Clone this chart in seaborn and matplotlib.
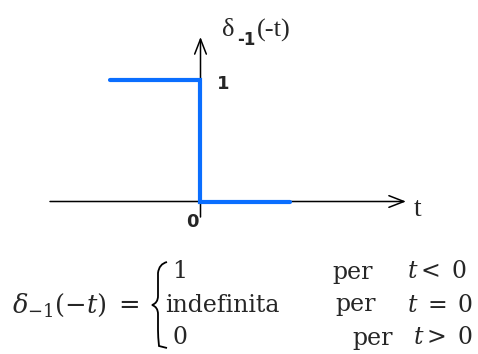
import matplotlib
matplotlib.use("Agg")
import matplotlib.pyplot as plt
import seaborn as sns
import pandas as pd
from matplotlib.path import Path
from matplotlib.patches import PathPatch

# ---- data ----
step_t = [-1.0, 0.0, 0.0, 1.0]
step_v = [1.0, 1.0, 0.0, 0.0]
tick_one = "1"
tick_zero = "0"
axis_label_x = "t"
piece_values = ["1", "indefinita", "0"]
piece_conditions = [r"$t{<}\;0$", r"$t\;=\;0$", r"$t>\;0$"]

sns.set_theme(style="white")
plt.rcParams["font.family"] = ["DejaVu Serif"]
plt.rcParams["mathtext.fontset"] = "dejavuserif"

W, H = 478, 354
fig = plt.figure(figsize=(W / 100, H / 100), dpi=100)
fig.patch.set_facecolor("white")
ax = fig.add_axes([0, 0, 1, 1])

# pixel <-> data mapping
X0, SX = 200.5, 90.0
Y0, SY = 201.5, 122.0
ax.set_xlim((0 - X0) / SX, (W - X0) / SX)
ax.set_ylim((Y0 - H) / SY, (Y0 - 0) / SY)
ax.axis("off")

def dx(px):
    return (px - X0) / SX

def dy(py):
    return (Y0 - py) / SY

def fig_xy(px, py):
    return (px / W, 1 - py / H)

# axes arrows
ax.annotate("", xy=(dx(406), 0), xytext=(dx(50), 0),
            arrowprops=dict(arrowstyle="->,head_length=0.9,head_width=0.35",
                            color="black", lw=1.1, shrinkA=0, shrinkB=0))
ax.annotate("", xy=(0, dy(37)), xytext=(0, dy(217)),
            arrowprops=dict(arrowstyle="->,head_length=0.9,head_width=0.35",
                            color="black", lw=1.1, shrinkA=0, shrinkB=0))

# step signal
df = pd.DataFrame({"t": step_t, "v": step_v})
sns.lineplot(data=df, x="t", y="v", sort=False, estimator=None, ax=ax,
             color="#0A6EFF", lw=3.0, solid_joinstyle="miter", zorder=3)
if ax.get_legend() is not None:
    ax.get_legend().remove()

# labels on the graph
fig.text(*fig_xy(222, 36), "δ", family="Liberation Serif", fontsize=19,
         ha="left", va="baseline")
fig.text(*fig_xy(237, 45), "-1", family="DejaVu Sans", fontweight="bold",
         fontsize=12, ha="left", va="baseline")
fig.text(*fig_xy(257, 37), "(-t)", family="Liberation Serif", fontsize=19,
         ha="left", va="baseline")
fig.text(*fig_xy(223, 84), tick_one, family="DejaVu Sans", fontweight="bold",
         fontsize=13, ha="center", va="center")
fig.text(*fig_xy(192, 222), tick_zero, family="DejaVu Sans", fontweight="bold",
         fontsize=13, ha="center", va="center")
fig.text(*fig_xy(418, 209), axis_label_x, family="Liberation Serif", fontsize=20,
         ha="center", va="center")

# formula
fs = 17
fig.text(*fig_xy(12, 305), r"$\delta_{-1}(-t)\;=$", fontsize=18.5, ha="left", va="center")

# brace drawn as a path (pixel coords -> figure fraction)
bp = [(167, 262), (159, 264), (158, 273), (158, 280),
      (158, 296), (158, 303), (152, 305),
      (158, 307), (158, 314), (158, 330),
      (158, 337), (159, 346), (167, 348)]
codes = [Path.MOVETO, Path.CURVE3, Path.CURVE3, Path.LINETO,
         Path.LINETO, Path.CURVE3, Path.CURVE3,
         Path.CURVE3, Path.CURVE3, Path.LINETO,
         Path.CURVE3, Path.CURVE3, Path.LINETO]
verts = [fig_xy(x, y) for x, y in bp]
fig.patches.append(PathPatch(Path(verts, codes), transform=fig.transFigure,
                             fill=False, lw=1.3, color="black"))

rows_y = [272, 305, 338]
val_x = [172, 165, 172]
per_x = [332, 335, 352]
cond_right = [467, 473, 473]
for yv, v, vx, px_, cond, cr in zip(rows_y, piece_values, val_x, per_x,
                                     piece_conditions, cond_right):
    fig.text(*fig_xy(vx, yv), v, fontsize=fs, ha="left", va="center")
    fig.text(*fig_xy(px_, yv), "per", fontsize=fs, ha="left", va="center")
    fig.text(*fig_xy(cr, yv), cond, fontsize=fs, ha="right", va="center")

fig.savefig("out.png", dpi=100, facecolor="white")
